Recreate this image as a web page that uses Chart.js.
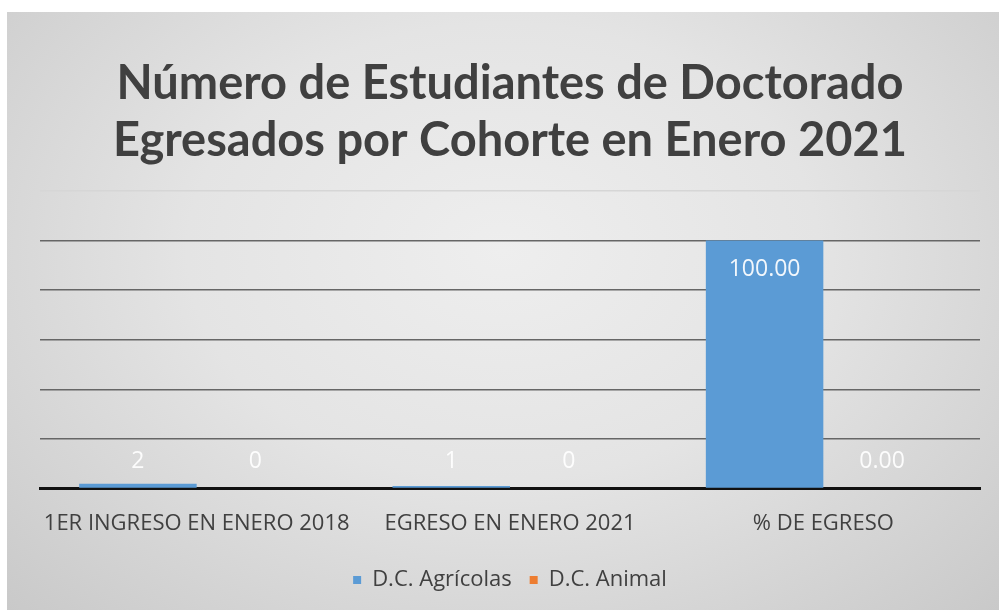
<!DOCTYPE html>
<html>
<head>
<meta charset="utf-8">
<script src="https://cdn.jsdelivr.net/npm/chart.js@4"></script>
<style>
  html, body { margin: 0; padding: 0; background: #fff; }
  #wrap {
    position: absolute; left: 7px; top: 12px; width: 992px; height: 598px;
    background: radial-gradient(ellipse at 50% 40%, #eeeeee 0%, #e4e4e4 45%, #c9c9c9 100%);
  }
</style>
</head>
<body>
<div id="wrap"><canvas id="chart" width="992" height="598"></canvas></div>
<script>
// chart data
const categories = ['1ER INGRESO EN ENERO 2018', 'EGRESO EN ENERO 2021', '% DE EGRESO'];
const agricolas = [2, 1, 100.00];
const animal = [0, 0, 0.00];
const seriesNames = ['D.C. Agrícolas', 'D.C. Animal'];
const yTicks = [0, 20, 40, 60, 80, 100, 120];

// white value labels like Excel's "inside end"
const valueLabels = {
  id: 'valueLabels',
  afterDatasetsDraw(chart) {
    const ctx = chart.ctx;
    const base = chart.scales.y.getPixelForValue(0);
    ctx.save();
    ctx.font = '23px "Open Sans", sans-serif';
    ctx.fillStyle = 'rgba(255,255,255,0.92)';
    ctx.textAlign = 'center';
    ctx.textBaseline = 'middle';
    chart.data.datasets.forEach((ds, di) => {
      chart.getDatasetMeta(di).data.forEach((bar, i) => {
        const v = ds.data[i];
        const txt = i === 2 ? v.toFixed(2) : String(v);
        const y = Math.min(bar.y + 29, base - 27);
        ctx.fillText(txt, bar.x, y);
      });
    });
    ctx.restore();
  }
};

new Chart(document.getElementById('chart'), {
  type: 'bar',
  data: {
    labels: categories,
    datasets: [
      { label: seriesNames[0], data: agricolas, backgroundColor: '#5b9bd5' },
      { label: seriesNames[1], data: animal, backgroundColor: '#ed7d31' }
    ]
  },
  options: {
    responsive: false,
    animation: false,
    layout: { padding: { left: 33, right: 19, top: 30, bottom: 9 } },
    datasets: { bar: { categoryPercentage: 0.75, barPercentage: 1.0 } },
    plugins: {
      title: {
        display: true,
        text: ['Número de Estudiantes de Doctorado', 'Egresados por Cohorte en Enero 2021'],
        color: '#404040',
        font: { family: 'Lato, sans-serif', size: 47, weight: 'bold', lineHeight: 1.2 },
        padding: { top: 14, bottom: 22 }
      },
      legend: {
        position: 'bottom',
        labels: {
          color: '#404040',
          font: { family: '"Open Sans", sans-serif', size: 22 },
          boxWidth: 8, boxHeight: 8, padding: 18
        }
      },
      tooltip: { enabled: false }
    },
    scales: {
      x: {
        grid: { display: false },
        border: { color: '#111', width: 3 },
        ticks: { color: '#404040', font: { family: '"Open Sans", sans-serif', size: 22 }, padding: 14 }
      },
      y: {
        min: yTicks[0], max: yTicks[yTicks.length - 1],
        afterBuildTicks: s => { s.ticks = yTicks.map(v => ({ value: v })); },
        ticks: { display: false },
        border: { display: false },
        grid: {
          color: c => c.tick.value === 120 ? '#d6d6d6' : '#666666',
          lineWidth: 1.5,
          drawTicks: false
        }
      }
    }
  },
  plugins: [valueLabels]
});
</script>
</body>
</html>
